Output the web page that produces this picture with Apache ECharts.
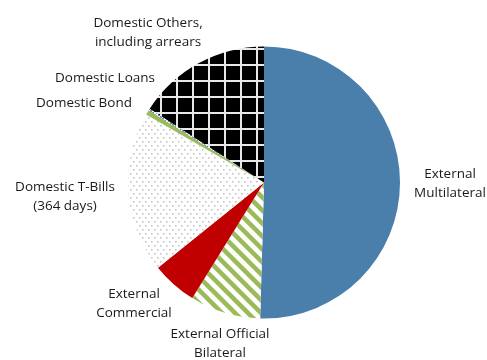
<!DOCTYPE html>
<html>
<head>
<meta charset="utf-8">
<script src="https://cdn.jsdelivr.net/npm/echarts@6/dist/echarts.min.js"></script>
<style>
html,body{margin:0;padding:0;background:#fff;}
#c{width:487px;height:360px;}
</style>
</head>
<body>
<div id="c"></div>
<script>
// Data
const categories = [
  'External\nMultilateral',
  'External Official\nBilateral',
  'External\nCommercial',
  'Domestic T-Bills\n(364 days)',
  'Domestic Bond',
  'Domestic Loans',
  'Domestic Others,\nincluding arrears'
];
const shares = [50.5, 8.4, 5.4, 19.1, 0.6, 0.2, 15.9];

// Label anchor positions (styling only)
const labelPos = [
  [450, 184], [220, 344], [134, 304], [65, 197], [84, 103], [105, 78], [148, 33]
];

function makePattern(w, h, draw) {
  const c = document.createElement('canvas');
  c.width = w; c.height = h;
  const g = c.getContext('2d');
  draw(g, w, h);
  return { image: c, repeat: 'repeat' };
}

const gridPat = makePattern(16, 16, (g, w, h) => {
  g.fillStyle = '#000'; g.fillRect(0, 0, w, h);
  g.fillStyle = '#e8e8e8';
  g.fillRect(0, 0, w, 2);
  g.fillRect(0, 0, 2, h);
});
const dotPat = makePattern(6, 8, (g, w, h) => {
  g.fillStyle = '#fff'; g.fillRect(0, 0, w, h);
  g.fillStyle = '#c4c4c4';
  g.fillRect(1, 1, 1.6, 1.6);
  g.fillRect(4, 5, 1.6, 1.6);
});
const stripePat = makePattern(13, 13, (g, w, h) => {
  g.fillStyle = '#fff'; g.fillRect(0, 0, w, h);
  g.strokeStyle = '#9bbb59'; g.lineWidth = 4.5;
  g.beginPath();
  g.moveTo(-6, -6); g.lineTo(19, 19);
  g.moveTo(-6, 7); g.lineTo(6, 19);
  g.moveTo(7, -6); g.lineTo(19, 6);
  g.stroke();
});
const loanPat = makePattern(4, 4, (g, w, h) => {
  g.fillStyle = '#fff'; g.fillRect(0, 0, w, h);
  g.fillStyle = '#4f81bd';
  g.fillRect(0, 0, 2, 2);
  g.fillRect(2, 2, 2, 2);
});

const fills = ['#4a7eab', stripePat, '#c00000', dotPat, '#9bbb59', loanPat, gridPat];

const chart = echarts.init(document.getElementById('c'), null, { renderer: 'canvas' });
chart.setOption({
  animation: false,
  backgroundColor: '#fff',
  series: [{
    type: 'pie',
    center: [264, 182.5],
    radius: 136,
    startAngle: 90,
    clockwise: true,
    avoidLabelOverlap: false,
    data: categories.map((n, i) => ({
      name: n,
      value: shares[i],
      itemStyle: { color: fills[i] }
    })),
    itemStyle: { borderWidth: 0 },
    emphasis: { disabled: true },
    labelLine: { show: false },
    label: {
      show: true,
      position: 'outside',
      formatter: '{b}',
      fontFamily: 'Open Sans',
      fontSize: 13.5,
      lineHeight: 19,
      color: '#1a1a1a',
      align: 'center'
    },
    labelLayout: function (p) {
      const pos = labelPos[p.dataIndex];
      return { x: pos[0], y: pos[1], align: 'center', verticalAlign: 'middle' };
    }
  }]
});
</script>
</body>
</html>
